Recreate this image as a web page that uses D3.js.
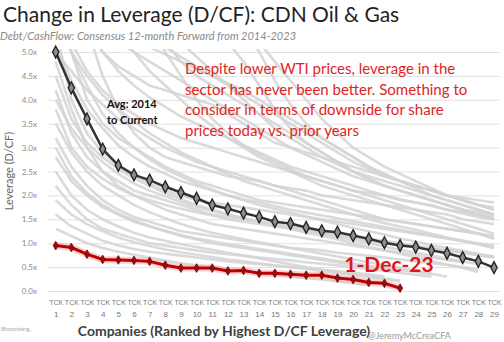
<!DOCTYPE html>
<head>
    <title>CDN Oil & Gas Leverage</title>
    <script src="https://cdnjs.cloudflare.com/ajax/libs/d3/7.8.5/d3.min.js"></script>
    <style>
        body { margin: 0; background: #fff; }
        svg { font-family: Lato, "Open Sans", sans-serif; }
    </style>
</head>
<body>
    <div id="chart"></div>
    <script type="text/javascript">
        const width = 504;
        const height = 342;

        // data
        const companies = d3.range(1, 30);
        const yTicks = [0, 0.5, 1, 1.5, 2, 2.5, 3, 3.5, 4, 4.5, 5];
        const avgLeverage = [5.0, 4.25, 3.6, 2.97, 2.63, 2.43, 2.32, 2.18, 2.06, 1.94, 1.80, 1.72, 1.63, 1.55, 1.45,
            1.41, 1.33, 1.26, 1.23, 1.16, 1.09, 1.01, 0.95, 0.92, 0.85, 0.79, 0.70, 0.62, 0.49];
        const dec23Leverage = [0.95, 0.91, 0.77, 0.66, 0.65, 0.64, 0.62, 0.54, 0.48, 0.48, 0.48, 0.42, 0.43, 0.37,
            0.37, 0.35, 0.33, 0.33, 0.27, 0.24, 0.18, 0.16, 0.06];

        // historical snapshots 2014-2023 (grey background lines)
        const hist01 = [8.5,7.5,6.8,6.2,5.8,5.5,5.3,5.1,4.9,4.7,4.5,4.3,4.1,3.9,3.7,3.5,3.3,3.1,2.9,2.7,2.55,2.4,2.3,2.2,2.1,2.0,1.95,1.9,1.85];
        const hist02 = [7.0,6.0,5.4,5.0,4.7,4.5,4.3,4.2,4.1,4.0,3.9,3.7,3.5,3.3,3.1,3.0,2.9,2.8,2.7,2.6,2.5,2.4,2.3,2.2,2.1,2.0,1.9,1.8,1.7];
        const hist03 = [6.2,5.2,4.6,4.2,3.9,3.7,3.5,3.35,3.2,3.1,3.0,2.9,2.8,2.7,2.6,2.5,2.4,2.3,2.2,2.1,2.05,2.0,1.9,1.85,1.8,1.7,1.65,1.6,1.5];
        const hist04 = [9,7,5.5,4.5,3.8,3.3,3.0,2.8,2.7,2.6,2.5,2.4,2.35,2.3,2.2,2.15,2.1,2.0,1.95,1.9,1.85,1.8,1.75,1.7,1.65,1.6,1.5,1.45,1.4];
        const hist05 = [5.5,4.0,3.3,2.9,2.6,2.4,2.25,2.1,2.0,1.9,1.85,1.8,1.75,1.7,1.65,1.6,1.55,1.5,1.45,1.4,1.35,1.3,1.25,1.2,1.15,1.1,1.05,1.0,0.95];
        const hist06 = [4.2,3.3,2.8,2.5,2.3,2.1,2.0,1.9,1.8,1.7,1.6,1.55,1.5,1.45,1.4,1.35,1.3,1.25,1.2,1.15,1.1,1.05,1.0,0.95,0.9,0.85,0.8,0.75,0.7];
        const hist07 = [3.2,2.6,2.2,1.9,1.7,1.55,1.45,1.35,1.25,1.2,1.15,1.1,1.05,1.0,0.95,0.9,0.88,0.85,0.8,0.77,0.74,0.7,0.66,0.62,0.58,0.55,0.5,0.45];
        const hist08 = [2.2,1.8,1.5,1.3,1.2,1.1,1.0,0.95,0.9,0.85,0.8,0.77,0.74,0.7,0.67,0.64,0.6,0.57,0.54,0.5,0.46,0.42,0.38,0.34,0.3];
        const hist09 = [12,10,9,8,7,6.5,6,5.6,5.2,4.9,4.6,4.3,4.0,3.7,3.4,3.2,3.0,2.8,2.65,2.5,2.4,2.3,2.2,2.1,2.0,1.9,1.8,1.7,1.6];
        const hist10 = [6,5.8,5.6,5.4,5.2,5.0,4.8,4.6,4.4,4.2,4.0,3.8,3.6,3.4,3.2,3.0,2.85,2.7,2.55,2.4,2.3,2.2,2.1,2.0,1.9,1.8,1.7,1.6,1.55];
        const hist11 = [5.0,4.6,4.2,3.9,3.6,3.4,3.2,3.0,2.85,2.7,2.6,2.5,2.4,2.3,2.2,2.1,2.0,1.9,1.8,1.7,1.6,1.5,1.45,1.4,1.35,1.3,1.25,1.2,1.15];
        const hist12 = [7.5,5.0,4.0,3.5,3.2,3.0,2.8,2.6,2.45,2.3,2.2,2.1,2.0,1.9,1.85,1.8,1.75,1.7,1.65,1.6,1.55,1.5,1.45,1.4,1.35,1.3,1.25,1.2,1.1];
        const hist13 = [4.8,3.8,3.0,2.5,2.2,2.0,1.85,1.7,1.6,1.5,1.4,1.35,1.3,1.25,1.2,1.15,1.1,1.05,1.0,0.95,0.9,0.85,0.8,0.75,0.7,0.65,0.6];
        const hist14 = [2.8,2.3,2.0,1.75,1.6,1.45,1.35,1.25,1.15,1.08,1.0,0.95,0.9,0.85,0.8,0.75,0.7,0.65,0.6,0.55,0.5,0.45,0.4];
        const hist15 = [10,9,8.5,8,7.2,6.5,5.8,5.2,4.8,4.5,4.3,4.1,3.9,3.7,3.5,3.3,3.1,2.9,2.7,2.5,2.35,2.2,2.1,2.0,1.9,1.8,1.7,1.65,1.6];
        const hist16 = [3.8,3.0,2.6,2.35,2.15,2.0,1.9,1.8,1.72,1.65,1.58,1.5,1.45,1.4,1.35,1.3,1.25,1.2,1.15,1.1,1.05,1.0,0.96,0.92,0.88,0.84,0.8,0.75,0.7];
        const hist17 = [8,6.5,5.6,5.0,4.6,4.3,4.05,3.85,3.65,3.5,3.35,3.2,3.05,2.9,2.75,2.6,2.5,2.4,2.3,2.2,2.1,2.0,1.92,1.85,1.78,1.7,1.62,1.55,1.5];
        const hist18 = [5.2,4.4,3.8,3.4,3.05,2.8,2.6,2.45,2.3,2.2,2.1,2.0,1.92,1.85,1.78,1.7,1.64,1.58,1.52,1.46,1.4,1.34,1.28,1.22,1.16,1.1,1.04,0.98,0.9];
        const hist19 = [1.6,1.35,1.2,1.05,0.95,0.88,0.82,0.78,0.74,0.7,0.66,0.62,0.59,0.56,0.53,0.5,0.47,0.44,0.41,0.38,0.35,0.3];
        const hist20 = [6.5,6.2,6.0,5.7,5.5,5.3,5.1,4.95,4.8,4.65,4.5,4.35,4.2,4.0,3.8,3.6,3.4,3.2,3.0,2.8,2.6,2.45,2.3,2.15,2.0,1.9,1.8,1.7,1.6];
        const hist21 = [14,13,12,11,10,9,8.5,8,7.5,7,6.5,6,5.5,5.0,4.4,3.9,3.5,3.2,3.0,2.8,2.6,2.45,2.3,2.2,2.1,2.0,1.9,1.8,1.7];
        const hist22 = [11,10,9.5,9,8.5,8,7.5,7,6.5,6,5.5,5.2,4.8,4.3,3.8,3.4,3.1,2.9,2.7,2.5,2.35,2.2,2.1,2.0,1.9,1.8,1.7,1.6,1.5];
        const hist23 = [9,8,7.5,7,6.5,6.0,5.5,5.0,4.5,4.0,3.6,3.3,3.05,2.85,2.7,2.55,2.4,2.3,2.2,2.1,2.0,1.9,1.8,1.7,1.6,1.5,1.4,1.3,1.2];
        const hist24 = [5.8,5.0,4.5,4.1,3.8,3.55,3.3,3.1,2.9,2.75,2.6,2.45,2.3,2.2,2.1,2.0,1.9,1.8,1.7,1.6,1.5,1.42,1.35,1.28,1.2,1.12,1.05,0.98,0.9];
        const hist25 = [4.5,3.6,3.1,2.8,2.55,2.35,2.2,2.05,1.92,1.8,1.7,1.6,1.52,1.45,1.38,1.3,1.22,1.15,1.08,1.0,0.92,0.85,0.78,0.7,0.62,0.55,0.48,0.4];
        const hist26 = [3.5,2.9,2.5,2.2,2.0,1.8,1.65,1.52,1.4,1.3,1.22,1.15,1.08,1.02,0.96,0.9,0.84,0.78,0.72,0.66,0.6,0.54,0.48,0.42,0.36,0.3];
        const hist27 = [2.5,2.0,1.7,1.5,1.35,1.22,1.12,1.05,0.98,0.92,0.86,0.8,0.74,0.68,0.62,0.56,0.5,0.45,0.4,0.35,0.3,0.25,0.2];
        const hist28 = [1.3,1.15,1.0,0.9,0.82,0.76,0.7,0.64,0.58,0.54,0.5,0.46,0.42,0.38,0.34,0.3,0.27,0.24,0.2,0.16,0.12];
        const hist29 = [7,6.6,6.2,5.8,5.4,5.0,4.6,4.3,4.0,3.7,3.45,3.2,3.0,2.8,2.65,2.5,2.35,2.2,2.1,2.0,1.9,1.8,1.7,1.6,1.5,1.4,1.3,1.2,1.1];
        const hist30 = [13,12,11,10,9.5,9,8.5,8,7.5,7,6.5,6,5.6,5.2,4.8,4.4,4.0,3.6,3.3,3.0,2.8,2.6,2.45,2.3,2.15,2.0,1.9,1.8,1.75];
        const hist31 = [6,5,4.3,3.7,3.3,3.0,2.75,2.55,2.4,2.25,2.12,2.0,1.9,1.8,1.72,1.64,1.56,1.48,1.4,1.32,1.25,1.18,1.1,1.03,0.96,0.9,0.84,0.78,0.72];
        const hist32 = [4,3.4,3.0,2.7,2.45,2.25,2.1,1.98,1.86,1.76,1.68,1.6,1.53,1.46,1.4,1.33,1.26,1.2,1.13,1.06,1.0,0.93,0.86,0.8,0.74,0.68,0.62,0.56];
        const hist33 = [3.0,2.4,2.05,1.8,1.62,1.48,1.36,1.26,1.17,1.1,1.04,0.98,0.93,0.88,0.83,0.78,0.73,0.68,0.63,0.58,0.53,0.48,0.44,0.4,0.36];
        const hist34 = [1.9,1.6,1.4,1.25,1.12,1.02,0.94,0.87,0.81,0.76,0.71,0.66,0.62,0.58,0.54,0.5,0.46,0.42,0.38,0.34,0.3,0.26,0.22];
        const histSeries = [hist01, hist02, hist03, hist04, hist05, hist06, hist07, hist08, hist09, hist10,
            hist11, hist12, hist13, hist14, hist15, hist16, hist17, hist18, hist19, hist20,
            hist21, hist22, hist23, hist24, hist25, hist26, hist27, hist28, hist29, hist30,
            hist31, hist32, hist33, hist34];

        const plotLeft = 47, plotRight = 500, plotTop = 52, plotBottom = 291;

        const svg = d3.select("#chart")
            .append("svg")
            .attr("width", width)
            .attr("height", height);

        const xScale = d3.scaleLinear()
            .domain([1, 29])
            .range([55.7, 494]);

        const yScale = d3.scaleLinear()
            .domain([0, 5])
            .range([plotBottom, plotTop]);

        // Y axis + gridlines
        const yAxis = d3.axisLeft(yScale)
            .tickValues(yTicks)
            .tickFormat(d => d.toFixed(1) + "x")
            .tickSize(-(plotRight - plotLeft))
            .tickPadding(10);

        const yg = svg.append("g")
            .attr("class", "axis y")
            .attr("transform", "translate(" + plotLeft + ",0)")
            .call(yAxis);
        yg.select(".domain").remove();
        yg.selectAll("line").attr("stroke", "#e2e2e2");
        yg.selectAll("text")
            .attr("fill", "#8a8a8a")
            .style("font-size", "8px")
            .style("font-family", "Lato, sans-serif");

        // X axis: "TCK" + rank
        const xAxis = d3.axisBottom(xScale)
            .tickValues(companies)
            .tickSize(0)
            .tickFormat("");
        const xg = svg.append("g")
            .attr("class", "axis x")
            .attr("transform", "translate(0," + plotBottom + ")")
            .call(xAxis);
        xg.select(".domain").remove();
        xg.selectAll(".tick").append("text")
            .attr("y", 14)
            .attr("text-anchor", "middle")
            .attr("fill", "#777")
            .style("font-size", "7px")
            .text("TCK");
        xg.selectAll(".tick").append("text")
            .attr("y", 26)
            .attr("text-anchor", "middle")
            .attr("fill", "#777")
            .style("font-size", "8px")
            .text(d => d);

        // grey history lines
        svg.append("clipPath").attr("id", "plot-clip")
            .append("rect")
            .attr("x", plotLeft)
            .attr("y", plotTop - 3)
            .attr("width", plotRight - plotLeft)
            .attr("height", plotBottom - plotTop + 3);

        const line = d3.line()
            .x((d, i) => xScale(companies[i]))
            .y(d => yScale(d));

        svg.append("g")
            .attr("clip-path", "url(#plot-clip)")
            .selectAll("path")
            .data(histSeries)
            .enter()
            .append("path")
            .attr("d", line)
            .attr("fill", "none")
            .attr("stroke", "#d3d3d3")
            .attr("stroke-width", 2.6)
            .attr("opacity", 0.85);

        // average line
        svg.append("path")
            .attr("d", line(avgLeverage))
            .attr("fill", "none")
            .attr("stroke", "#333")
            .attr("stroke-width", 2.5);

        svg.append("g")
            .selectAll("path")
            .data(avgLeverage)
            .enter()
            .append("path")
            .attr("d", d3.symbol(d3.symbolDiamond, 34))
            .attr("transform", (d, i) => "translate(" + xScale(companies[i]) + "," + yScale(d) + ") scale(1,1.1)")
            .attr("fill", "#8c8c8c")
            .attr("stroke", "#222")
            .attr("stroke-width", 1.3);

        // current (1-Dec-23) line
        svg.append("path")
            .attr("d", line(dec23Leverage))
            .attr("fill", "none")
            .attr("stroke", "#f2b3b3")
            .attr("stroke-width", 7)
            .attr("opacity", 0.6);
        svg.append("path")
            .attr("d", line(dec23Leverage))
            .attr("fill", "none")
            .attr("stroke", "#c00000")
            .attr("stroke-width", 3);
        svg.append("g")
            .selectAll("path")
            .data(dec23Leverage)
            .enter()
            .append("path")
            .attr("d", d3.symbol(d3.symbolDiamond, 22))
            .attr("transform", (d, i) => "translate(" + xScale(companies[i]) + "," + yScale(d) + ")")
            .attr("fill", "#9b0d0d")
            .attr("stroke", "#7a0000")
            .attr("stroke-width", 0.8);

        // titles
        svg.append("text")
            .attr("x", 3).attr("y", 22)
            .attr("fill", "#222")
            .style("font-size", "21px")
            .text("Change in Leverage (D/CF): CDN Oil & Gas");

        svg.append("text")
            .attr("x", 0).attr("y", 40)
            .attr("fill", "#8a8a8a")
            .style("font-size", "11px")
            .style("font-style", "italic")
            .text("Debt/CashFlow: Consensus 12-month Forward from 2014-2023");

        svg.append("text")
            .attr("transform", "translate(13,171) rotate(-90)")
            .attr("text-anchor", "middle")
            .attr("fill", "#666")
            .style("font-size", "11px")
            .text("Leverage (D/CF)");

        svg.append("text")
            .attr("x", 224).attr("y", 336)
            .attr("text-anchor", "middle")
            .attr("fill", "#404040")
            .style("font-size", "14px")
            .style("font-weight", "bold")
            .text("Companies (Ranked by Highest D/CF Leverage)");

        svg.append("text")
            .attr("x", 368).attr("y", 339)
            .attr("fill", "#999")
            .style("font-size", "9px")
            .text("@JeremyMcCreaCFA");

        svg.append("text")
            .attr("x", 1).attr("y", 331)
            .attr("fill", "#aaa")
            .style("font-size", "6px")
            .text("Bloomberg,");

        // annotations
        const avgNote = svg.append("text")
            .attr("fill", "#111")
            .style("font-size", "11px")
            .style("font-weight", "bold");
        avgNote.append("tspan").attr("x", 107).attr("y", 108).text("Avg: 2014");
        avgNote.append("tspan").attr("x", 107).attr("y", 124).text("to Current");

        const redNote = svg.append("text")
            .attr("fill", "#e0251f")
            .style("font-size", "15px");
        const noteLines = ["Despite lower WTI prices, leverage in the",
            "sector has never been better. Something to",
            "consider in terms of downside for share",
            "prices today vs. prior years"];
        noteLines.forEach((t, i) => {
            redNote.append("tspan").attr("x", 185).attr("y", 74 + i * 20.7).text(t);
        });

        svg.append("text")
            .attr("x", 389).attr("y", 272)
            .attr("text-anchor", "middle")
            .attr("fill", "#e0151a")
            .style("font-size", "21px")
            .style("font-weight", "bold")
            .text("1-Dec-23");
    </script>
</body>
